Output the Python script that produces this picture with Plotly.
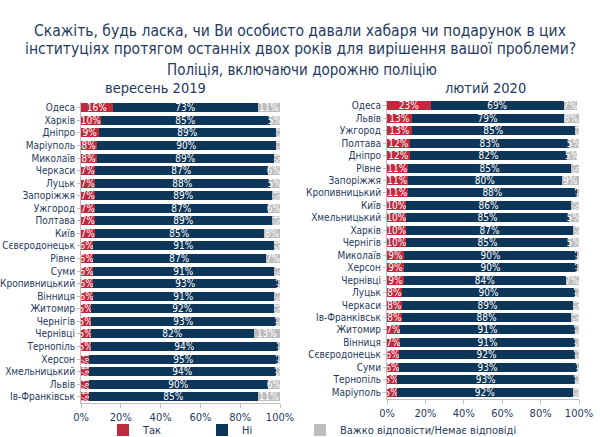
import plotly.graph_objects as go

# ---- Data ----
cities_2019 = ["Одеса", "Харків", "Дніпро", "Маріуполь", "Миколаїв", "Черкаси", "Луцьк",
               "Запоріжжя", "Ужгород", "Полтава", "Київ", "Сєвєродонецьк", "Рівне", "Суми",
               "Кропивницький", "Вінниця", "Житомир", "Чернігів", "Чернівці", "Тернопіль",
               "Херсон", "Хмельницький", "Львів", "Ів-Франківськ"]
yes_2019 = [16, 10, 9, 8, 8, 7, 7, 7, 7, 7, 7, 6, 6, 6, 6, 6, 5, 5, 5, 5, 4, 4, 4, 4]
no_2019 = [73, 85, 89, 90, 89, 87, 88, 89, 87, 89, 85, 91, 87, 91, 93, 91, 92, 93, 82, 94, 95, 94, 90, 85]
dk_2019 = [11, 5, 3, 3, 3, 6, 5, 4, 6, 4, 8, 3, 7, 4, 1, 4, 3, 2, 13, 2, 1, 2, 6, 11]

cities_2020 = ["Одеса", "Львів", "Ужгород", "Полтава", "Дніпро", "Рівне", "Запоріжжя",
               "Кропивницький", "Київ", "Хмельницький", "Харків", "Чернігів", "Миколаїв",
               "Херсон", "Чернівці", "Луцьк", "Черкаси", "Ів-Франківськ", "Житомир", "Вінниця",
               "Сєвєродонецьк", "Суми", "Тернопіль", "Маріуполь"]
yes_2020 = [23, 13, 13, 12, 12, 11, 11, 11, 10, 10, 10, 10, 9, 9, 9, 8, 8, 8, 7, 7, 6, 6, 5, 5]
no_2020 = [69, 79, 85, 83, 82, 85, 80, 88, 86, 85, 87, 85, 90, 90, 84, 90, 89, 88, 91, 91, 92, 93, 93, 92]
dk_2020 = [7, 8, 3, 5, 5, 4, 9, 1, 4, 5, 4, 5, 1, 1, 7, 2, 3, 4, 2, 2, 2, 2, 2, 3]

series_names = ["Так", "Ні", "Важко відповісти/Немає відповіді"]
tick_vals = [0, 20, 40, 60, 80, 100]
tick_text = ["0%", "20%", "40%", "60%", "80%", "100%"]

title_line1 = "Скажіть, будь ласка, чи Ви особисто давали хабаря чи подарунок в цих"
title_line2 = "інституціях протягом останніх двох років для вирішення вашої проблеми?"
subtitle = "Поліція, включаючи дорожню поліцію"
period_left = "вересень 2019"
period_right = "лютий 2020"

# ---- Styles ----
COLORS = ["#BE2A3E", "#0E3658", "#BDBDBD"]
NAVY = "#1F3A60"
FONT = "DejaVu Sans Condensed, DejaVu Sans, sans-serif"
LEGEND_IDS = ["legend", "legend2", "legend3"]
LEGEND_X = [103, 202, 300]

fig = go.Figure()

def add_panel(cities, series, xa, ya, showlegend):
    for name, vals, col, lid in zip(series_names, series, COLORS, LEGEND_IDS):
        fig.add_trace(go.Bar(
            y=cities, x=vals, name=name, orientation="h",
            marker=dict(color=col, line=dict(width=0)),
            text=[f"{v}%" for v in vals], textposition="inside",
            insidetextanchor="middle", constraintext="none",
            textfont=dict(color="white", size=10, family=FONT),
            xaxis=xa, yaxis=ya, showlegend=showlegend, legend=lid,
            hoverinfo="skip", cliponaxis=True,
        ))

add_panel(cities_2019, [yes_2019, no_2019, dk_2019], "x", "y", True)
add_panel(cities_2020, [yes_2020, no_2020, dk_2020], "x2", "y2", False)

xaxis_common = dict(range=[0, 100], tickvals=tick_vals, ticktext=tick_text,
                    showgrid=False, zeroline=False, showline=True, linecolor="#BFBFBF",
                    ticks="outside", ticklen=4, tickcolor="#BFBFBF",
                    tickfont=dict(color=NAVY, size=11, family=FONT), fixedrange=True)
yaxis_common = dict(autorange="reversed", showgrid=False, zeroline=False, showline=True,
                    linecolor="#BFBFBF", ticks="outside", ticklen=3, tickcolor="#BFBFBF",
                    tickfont=dict(color=NAVY, size=10, family=FONT), type="category")

def ann(text, x, y, size):
    return dict(text=text, x=x / 600, y=1 - y / 437, xref="paper", yref="paper",
                xanchor="center", yanchor="middle", showarrow=False,
                font=dict(size=size, color=NAVY, family=FONT))

def leg(x):
    return dict(orientation="h", x=x / 600, y=1 - 430 / 437, yanchor="middle",
                xanchor="left", itemwidth=30,
                font=dict(color=NAVY, size=11, family=FONT), bgcolor="rgba(0,0,0,0)")

fig.update_layout(
    width=600, height=437,
    margin=dict(l=0, r=0, t=0, b=0, autoexpand=False),
    paper_bgcolor="white", plot_bgcolor="white",
    barmode="stack", bargap=0.28,
    font=dict(family=FONT, color=NAVY),
    xaxis=dict(domain=[81 / 600, 280 / 600], anchor="y", **xaxis_common),
    yaxis=dict(domain=[1 - 403 / 437, 1 - 101.5 / 437], anchor="x",
               categoryorder="array", categoryarray=cities_2019,
               tickmode="array", tickvals=cities_2019, ticktext=cities_2019, **yaxis_common),
    xaxis2=dict(domain=[387 / 600, 579 / 600], anchor="y2", **xaxis_common),
    yaxis2=dict(domain=[1 - 398.5 / 437, 1 - 99.5 / 437], anchor="x2",
                categoryorder="array", categoryarray=cities_2020,
                tickmode="array", tickvals=cities_2020, ticktext=cities_2020, **yaxis_common),
    legend=leg(LEGEND_X[0]),
    legend2=leg(LEGEND_X[1]),
    legend3=leg(LEGEND_X[2]),
    annotations=[
        ann(title_line1, 300, 30.5, 15.5),
        ann(title_line2, 300, 49, 15.5),
        ann(subtitle, 302, 70, 15),
        ann(period_left, 155, 88, 14.5),
        ann(period_right, 485, 88, 14.5),
    ],
)

fig.write_html("out.html")
